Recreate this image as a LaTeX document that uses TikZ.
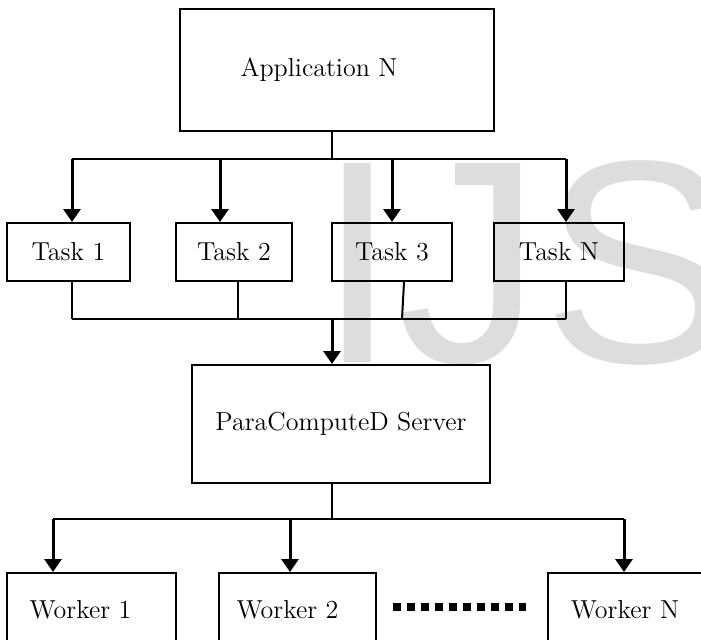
\documentclass[tikz,border=0pt]{standalone}
\usepackage{fontspec}
\newfontfamily\markfont{Liberation Sans}
\usetikzlibrary{arrows.meta}
\definecolor{markgray}{RGB}{221,221,221}

\begin{document}
\begin{tikzpicture}[x=0.5pt,y=-0.5pt]

  \tikzstyle{box} = [draw, line width=1pt, inner sep=0pt, font=\fontsize{13}{15}\selectfont]
  \tikzstyle{wire} = [line width=1pt]
  \tikzstyle{feed} = [line width=1.5pt, -{Triangle[width=8.5pt,length=6.5pt]}]
  \tikzstyle{dots} = [line width=4pt, dash pattern=on 4pt off 3pt]

  \useasboundingbox (0,0) rectangle (701,639);

  % faint lettering behind the chart
  \node[anchor=base west, inner sep=0pt, text=markgray,
        font=\markfont\fontsize{144.6}{150}\selectfont] (mark) at (317,362) {IJS};

  % boxes
  \node[box, minimum width=157pt, minimum height=61pt] (app) at (337,70) {Application N\hspace*{18pt}};

  \node[box, minimum width=61.5pt, minimum height=29pt] (t1) at (68.5,252) {Task 1};
  \node[box, minimum width=58pt,   minimum height=29pt] (t2) at (234,252)  {Task 2};
  \node[box, minimum width=60pt,   minimum height=29pt] (t3) at (392,252)  {Task 3};
  \node[box, minimum width=65pt,   minimum height=29pt] (tN) at (559,252)  {Task N};

  \node[box, minimum width=149pt, minimum height=59pt] (srv) at (341,424) {ParaComputeD Server};

  \node[box, minimum width=84.5pt, minimum height=37pt] (w1) at (91.5,610) {Worker 1\hspace*{11pt}};
  \node[box, minimum width=78.5pt, minimum height=37pt] (w2) at (297.5,610) {Worker 2\hspace*{10pt}};
  \node[box, minimum width=77pt,   minimum height=37pt] (wN) at (625,610) {Worker N};

  % application splits into tasks
  \coordinate (split) at (332,159);
  \draw[wire] (app.south -| split) -- (split);
  \foreach \t/\x in {t1/72, t2/220, t3/392, tN/566} {
    \coordinate (in-\t) at (\x,159);
    \draw[feed] (in-\t) -- (in-\t |- \t.north);
  }
  \draw[wire] (in-t1) -- (in-tN);

  % tasks gathered for the server
  \coordinate (out-t1) at (72,319);
  \coordinate (out-t2) at (238,319);
  \coordinate (out-t3) at (402,319);
  \coordinate (out-tN) at (566,319);
  \coordinate (join) at (332,319);
  \draw[wire] (out-t1 |- t1.south) -- (out-t1);
  \draw[wire] (out-t2 |- t2.south) -- (out-t2);
  \draw[wire] ([xshift=6pt]t3.south) -- (out-t3);
  \draw[wire] (out-tN |- tN.south) -- (out-tN);
  \draw[wire] (out-t1) -- (out-tN);
  \draw[feed] (join) -- (join |- srv.north);

  % server hands out to workers
  \coordinate (fork) at (332,519);
  \draw[wire] (srv.south -| fork) -- (fork);
  \foreach \w/\x in {w1/53, w2/290, wN/624} {
    \coordinate (in-\w) at (\x,519);
    \draw[feed] (in-\w) -- (in-\w |- \w.north);
  }
  \draw[wire] (in-w1) -- (in-wN);

  \draw[dots] ([xshift=8pt,yshift=1.5pt]w2.east) -- ([xshift=-10.5pt,yshift=1.5pt]wN.west);

\end{tikzpicture}
\end{document}
